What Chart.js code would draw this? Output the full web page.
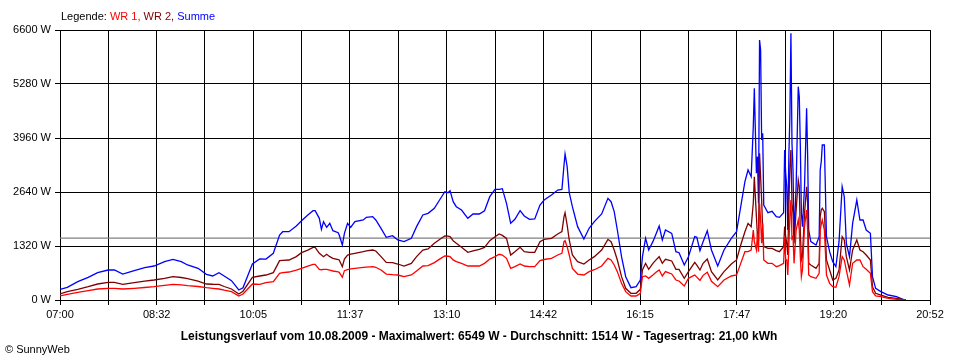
<!DOCTYPE html>
<html>
<head>
<meta charset="utf-8">
<script src="https://cdn.jsdelivr.net/npm/chart.js@4.4.0/dist/chart.umd.min.js"></script>
<style>
  body { margin: 0; background: #fff; }
  #wrap { position: relative; width: 960px; height: 360px; font-family: "Liberation Sans", Arial, sans-serif; }
  #legende { position: absolute; left: 61px; top: 10px; font-size: 11px; white-space: nowrap; }
  #titel { position: absolute; left: 0; width: 958px; top: 329px; text-align: center; font-size: 12px; font-weight: bold; white-space: nowrap; }
  #copy { position: absolute; left: 5px; top: 343px; font-size: 11px; }
</style>
</head>
<body>
<div id="wrap">
  <canvas id="leistung" width="960" height="360"></canvas>
  <div id="legende">Legende: <span style="color:#ff0000">WR 1,</span> <span style="color:#800000">WR 2,</span> <span style="color:#0000ff">Summe</span></div>
  <div id="titel">Leistungsverlauf vom 10.08.2009 - Maximalwert: 6549 W - Durchschnitt: 1514 W - Tagesertrag: 21,00 kWh</div>
  <div id="copy">&copy; SunnyWeb</div>
</div>
<script>
// Messzeiten
var times = [
  '07:00','07:07','07:17','07:27','07:36','07:46','07:52','08:00','08:11','08:21','08:30','08:40','08:48','08:56','09:02','09:12','09:20','09:26','09:32','09:37','09:44','09:51','09:55',
  '10:04','10:11','10:17','10:24','10:30','10:33','10:39','10:46','10:51','10:57','11:02','11:04','11:08','11:10','11:12','11:15','11:18','11:21','11:26','11:27','11:30','11:32','11:35','11:38','11:42','11:50','11:53','11:59','12:02','12:07','12:12','12:18','12:23','12:29','12:36','12:41','12:47',
  '12:52','12:58','13:03','13:08','13:11','13:13','13:16','13:19','13:24','13:30','13:35','13:41','13:46','13:51','13:56','14:00','14:03','14:07','14:11','14:15','14:20','14:24','14:29','14:34','14:39','14:43','14:50','14:56','15:00','15:02','15:03','15:05','15:07','15:10','15:15','15:21','15:26','15:31','15:38','15:44','15:47',
  '15:50','15:53','15:57','16:01','16:06','16:11','16:15','16:17','16:20','16:23','16:27','16:30','16:33','16:36','16:39','16:45','16:49','16:52','16:57','17:01','17:07','17:09','17:12','17:15','17:19','17:23','17:29','17:35','17:42','17:47','17:51','17:55','17:58','18:01','18:03','18:04','18:06','18:07','18:08','18:09','18:10','18:11','18:12','18:13','18:17','18:21','18:25','18:28',
  '18:32','18:33','18:34','18:35','18:36','18:37','18:38','18:39','18:40','18:41','18:42','18:44','18:46','18:47','18:48','18:49','18:50','18:52','18:54','18:55','18:56','18:58','19:03','19:06','19:07','19:08','19:09','19:11','19:13','19:16','19:19','19:22','19:25','19:28','19:30','19:32','19:35','19:38','19:42','19:45','19:48','19:51','19:55','19:57','20:00','20:05','20:12','20:20','20:26','20:29'
];

// WR 1 (rot), Watt
var wr1 = [
  98,139,187,228,269,285,285,269,285,305,326,360,383,370,350,330,302,285,269,240,204,98,145,
  391,383,424,448,652,670,684,730,774,830,872,872,750,740,750,750,730,709,690,676,554,717,740,760,774,798,805,815,800,733,635,620,611,570,611,709,831,
  839,913,1000,1076,1070,1059,980,937,896,831,831,831,896,1000,1059,1117,1100,1019,774,815,880,831,815,815,961,990,1019,1100,1141,1426,1450,1304,1100,774,635,611,692,740,831,1019,978,
  856,693,407,204,98,98,163,570,587,530,611,680,733,587,693,636,489,465,342,530,611,560,480,603,676,456,326,489,587,611,896,1181,1181,1222,1711,1426,1222,1630,1181,2363,1955,1385,1874,978,896,896,815,840,
  896,1548,978,978,611,1300,2037,2444,1500,1548,896,1711,1955,1711,1059,570,733,1793,2200,1711,611,570,530,652,1711,1850,1955,1711,611,407,326,310,570,1059,978,733,367,896,978,978,815,750,652,204,98,81,41,16,0,0
];

// WR 2 (dunkelrot), Watt
var wr2 = [
  147,204,261,326,391,432,432,383,424,460,489,530,570,550,522,460,391,385,383,330,269,147,215,
  554,587,611,668,961,970,978,1060,1157,1220,1287,1287,1141,1100,1059,1117,1059,1019,990,978,815,1000,1100,1120,1141,1181,1200,1222,1198,1059,921,913,880,831,896,1059,1222,
  1247,1385,1480,1564,1560,1548,1450,1385,1287,1165,1200,1239,1287,1450,1548,1613,1580,1507,1100,1181,1287,1181,1165,1165,1426,1480,1507,1613,1670,2037,2134,1833,1467,1100,937,880,978,1060,1222,1483,1426,
  1222,978,570,285,163,163,261,733,896,750,896,980,1059,896,994,954,750,750,530,693,921,850,733,896,1002,693,489,693,880,978,1344,1670,1874,1793,2363,3015,2037,1548,1500,3585,3015,2444,1711,1304,1263,1263,1206,1180,
  1304,1793,1548,1385,1100,2300,3259,3667,2363,2118,1385,2200,2933,2770,1630,978,1059,2118,2770,2363,896,856,774,896,2037,2200,2241,2159,978,733,489,530,733,1548,1467,1059,733,1222,1467,1222,1181,1100,978,326,163,122,65,41,16,0
];

// Summe (blau), Watt
var summe = [
  261,310,448,554,668,733,733,635,717,790,831,937,994,937,856,774,627,587,668,587,472,244,300,
  880,1002,1000,1141,1589,1670,1670,1809,1939,2078,2183,2183,1996,1727,1915,1776,1874,1695,1646,1589,1344,1630,1874,1776,1915,1956,2021,2037,1956,1752,1532,1573,1467,1426,1507,1793,2078,
  2118,2241,2444,2648,2624,2672,2403,2281,2200,1996,2102,2102,2183,2526,2705,2705,2721,2363,1874,1972,2183,2053,1972,1980,2322,2444,2567,2689,2705,3300,3569,3259,2624,2281,1793,1491,1752,1915,2102,2485,2403,
  2159,1711,1059,570,302,326,489,1059,1507,1222,1426,1613,1809,1467,1711,1630,1181,1157,856,1059,1548,1532,1206,1426,1695,1222,831,1222,1507,1670,2281,2893,3178,3015,4237,5174,3097,3504,2363,6356,6111,3911,4074,2322,2134,2167,2037,2021,
  2134,3667,3097,2770,1711,3500,4481,6519,3830,3178,1548,2800,5215,4970,3748,2118,1793,2770,4685,3504,1711,1426,1344,1548,3178,3382,3789,3789,1548,1181,937,815,1426,2770,2526,1385,1059,1874,2444,1955,1955,1711,1630,570,285,204,122,81,16,0
];

var durchschnitt = 1514;
var tickLabels = ['07:00','08:32','10:05','11:37','13:10','14:42','16:15','17:47','19:20','20:52'];
var yTicks = [0, 1320, 2640, 3960, 5280, 6600];

function toMin(t) {
  var p = t.split(':');
  return parseInt(p[0], 10) * 60 + parseInt(p[1], 10);
}
function pts(arr) {
  var out = [];
  for (var i = 0; i < times.length; i++) {
    out.push({ x: toMin(times[i]), y: arr[i] });
  }
  return out;
}

var xMin = toMin(tickLabels[0]);
var xMax = toMin(tickLabels[tickLabels.length - 1]);
var fnt = { family: '"Liberation Sans", Arial, sans-serif', size: 11 };

var ctx = document.getElementById('leistung');
var myChart = new Chart(ctx, {
  type: 'line',
  data: {
    datasets: [
      { label: 'WR 1', data: pts(wr1), borderColor: '#ff0000', borderWidth: 1.3, pointRadius: 0, tension: 0 },
      { label: 'WR 2', data: pts(wr2), borderColor: '#800000', borderWidth: 1.3, pointRadius: 0, tension: 0 },
      { label: 'Summe', data: pts(summe), borderColor: '#0000ff', borderWidth: 1.3, pointRadius: 0, tension: 0 },
      { label: 'Durchschnitt', data: [{ x: xMin, y: durchschnitt }, { x: xMax, y: durchschnitt }], borderColor: '#808080', borderWidth: 1.3, pointRadius: 0 }
    ]
  },
  options: {
    responsive: false,
    animation: false,
    layout: { padding: { left: 0, right: 30, top: 30, bottom: 0 } },
    plugins: { legend: { display: false }, tooltip: { enabled: false } },
    scales: {
      x: {
        type: 'linear',
        min: xMin,
        max: xMax,
        afterFit: function (s) { s.height = 60; },
        afterBuildTicks: function (s) {
          var t = [];
          for (var i = 0; i <= 18; i++) t.push({ value: xMin + i * (xMax - xMin) / 18 });
          s.ticks = t;
        },
        ticks: {
          autoSkip: false, maxRotation: 0, color: '#000', font: fnt, padding: 3,
          callback: function (v, i) { return i % 2 === 0 ? tickLabels[i / 2] : ''; }
        },
        grid: { color: '#000', lineWidth: 1, tickLength: 5 },
        border: { color: '#000' }
      },
      y: {
        min: 0,
        max: 6600,
        afterFit: function (s) { s.width = 60; },
        afterBuildTicks: function (s) { s.ticks = yTicks.map(function (v) { return { value: v }; }); },
        ticks: { color: '#000', font: fnt, padding: 4, callback: function (v) { return v + ' W'; } },
        grid: { color: '#000', lineWidth: 1, tickLength: 5 },
        border: { color: '#000' }
      }
    }
  }
});
</script>
</body>
</html>
